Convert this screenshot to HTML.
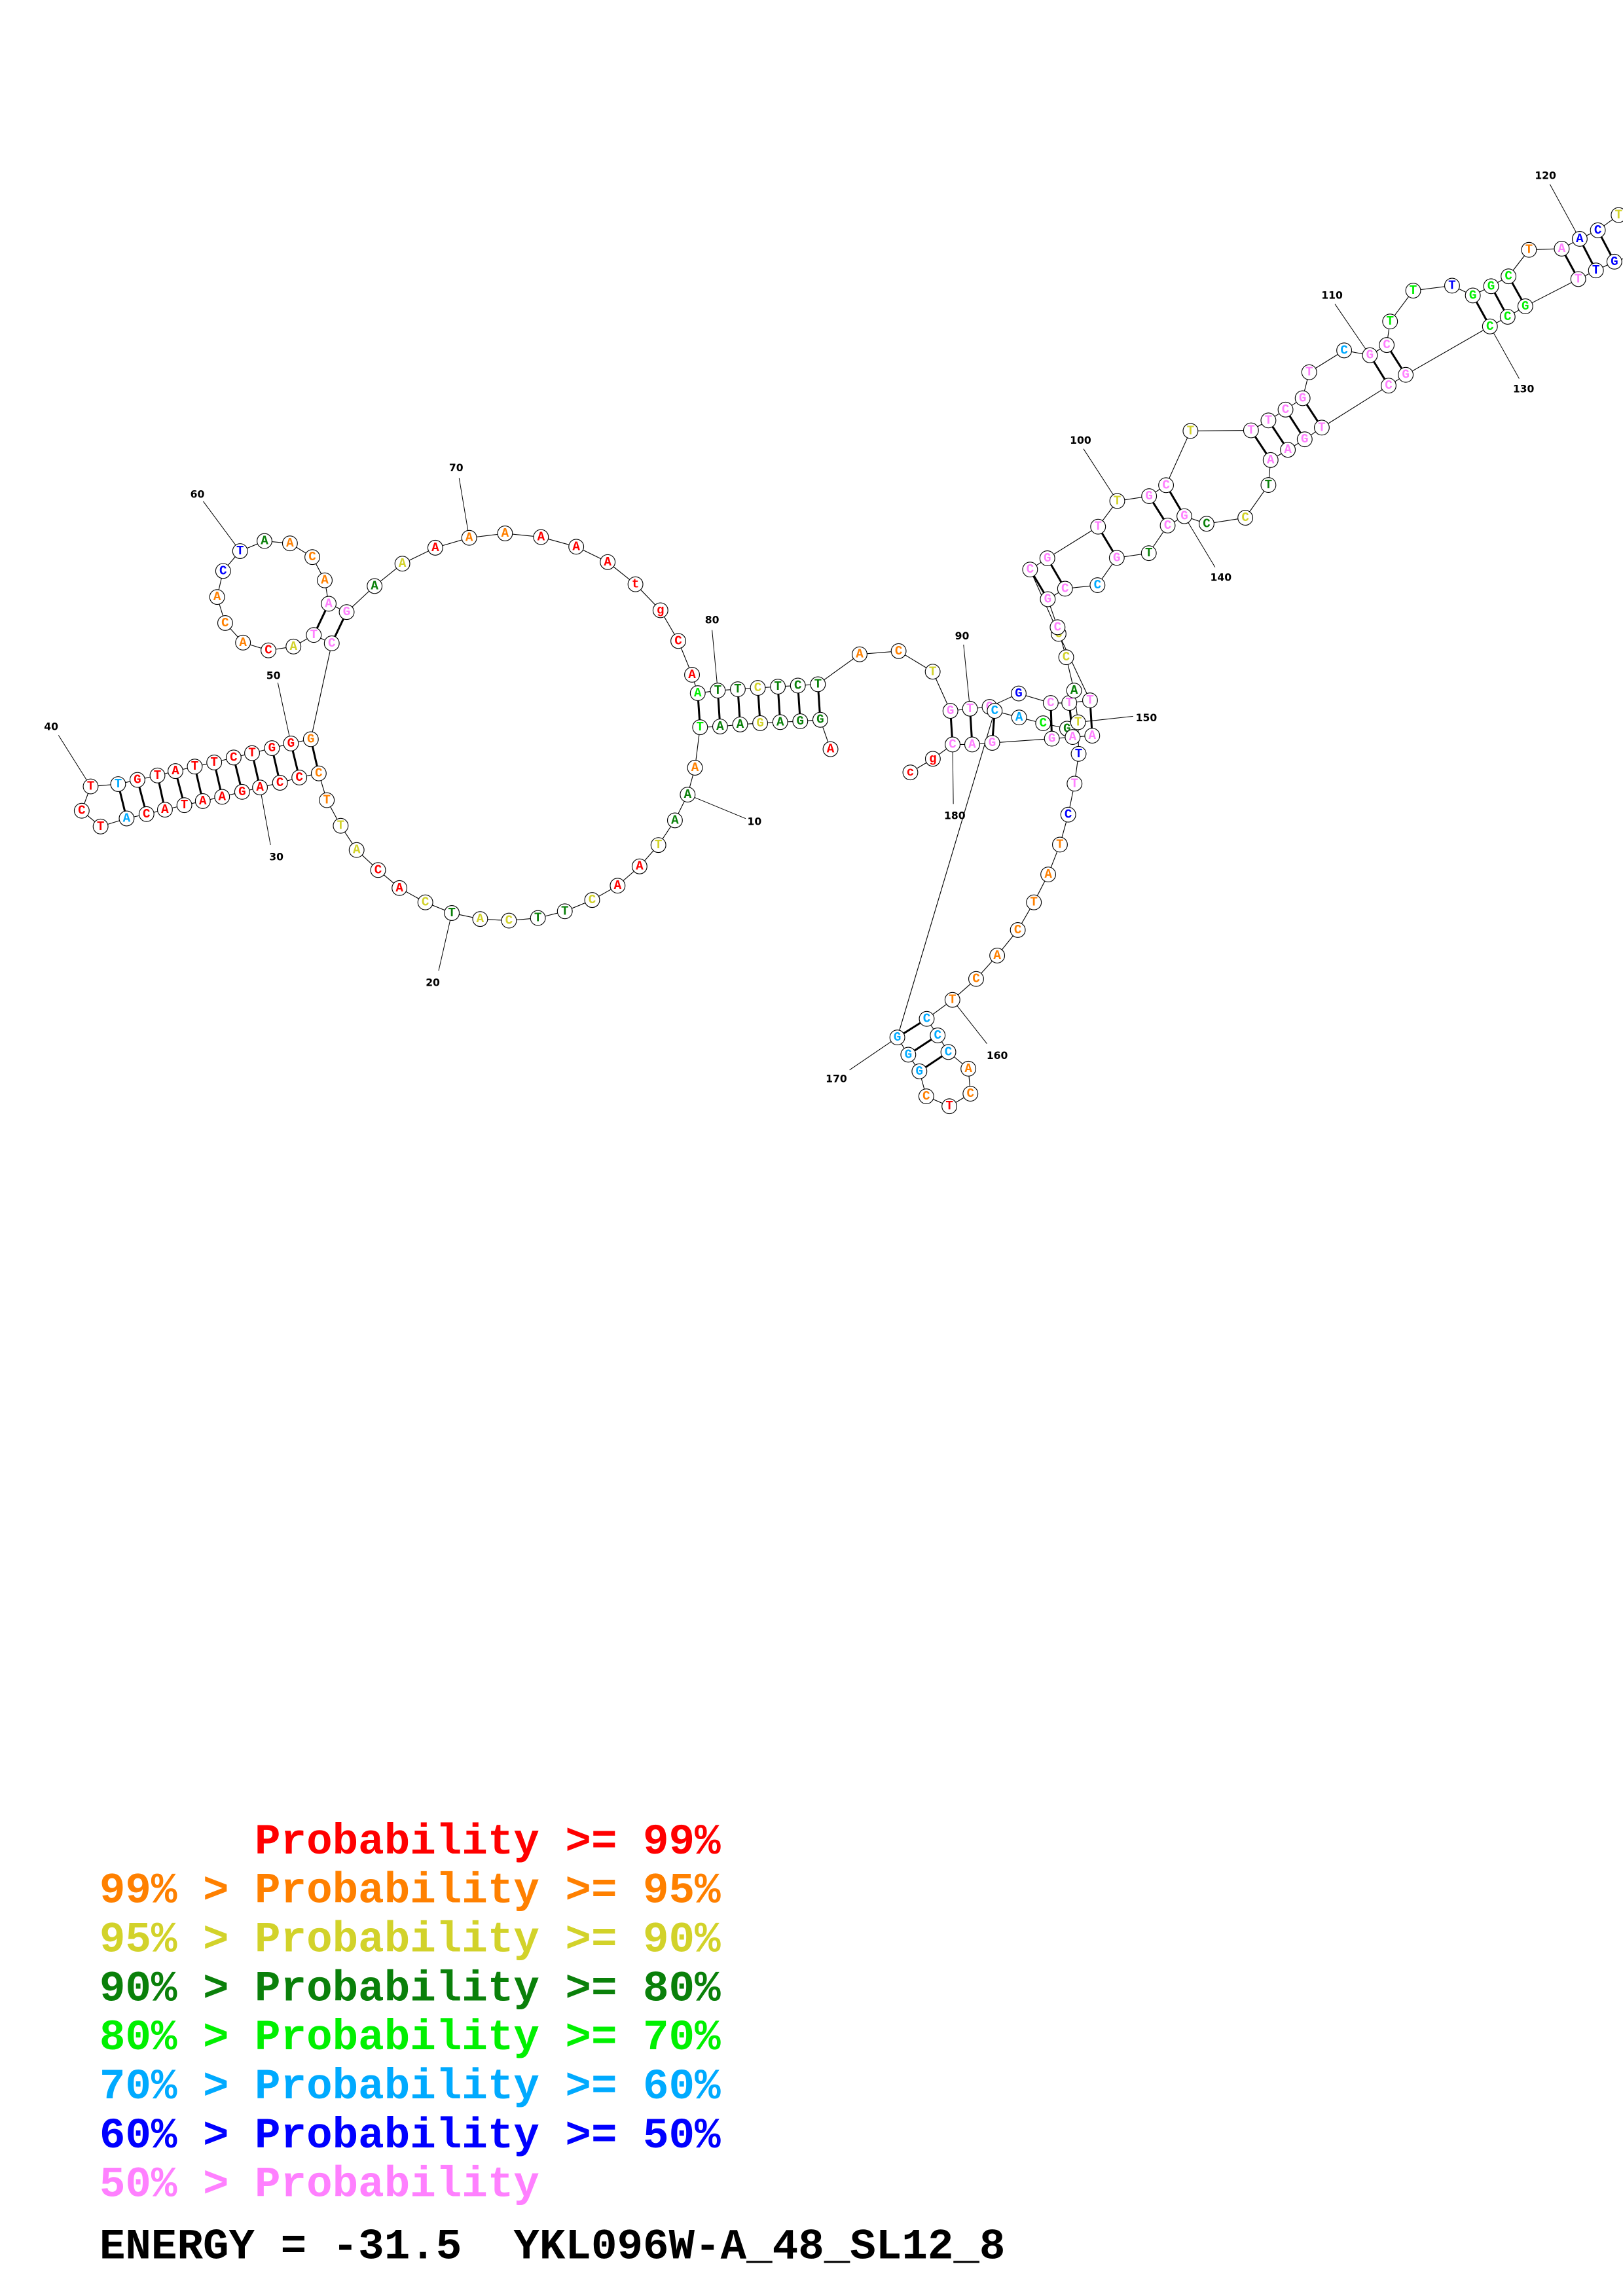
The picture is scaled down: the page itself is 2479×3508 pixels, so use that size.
<!DOCTYPE html>
<html><head><meta charset="utf-8"><style>
html,body{margin:0;padding:0;background:#fff}
svg{display:block}
.bb{fill:none;stroke:#000;stroke-width:.5}
.pr{stroke:#000;stroke-width:1.35}
.lb{stroke:#000;stroke-width:.45}
circle{fill:#fff;stroke:#000;stroke-width:.5}
.n{font-family:"Liberation Mono",monospace;font-weight:bold;font-size:8.6px;text-anchor:middle;dominant-baseline:central}
.num{font-family:"DejaVu Sans","Liberation Sans",sans-serif;font-weight:bold;font-size:7px;text-anchor:middle;dominant-baseline:central}
.lg{font-family:"Liberation Mono",monospace;font-weight:bold;font-size:29.5px}
.R{fill:#ff0000}.O{fill:#ff8000}.Y{fill:#d2d22a}.D{fill:#0a800a}.G{fill:#00f000}.L{fill:#00aaff}.B{fill:#0000ff}.P{fill:#ff80ff}.K{fill:#000}
</style></head><body>
<svg xmlns="http://www.w3.org/2000/svg" width="2479" height="3508" viewBox="0 0 1110 1570.7">
<rect x="0" y="0" width="1110" height="1570.7" fill="#fff"/>
<polyline class="bb" points="568.0,512.5 561.0,492.4 547.3,493.4 533.6,494.0 519.9,494.7 506.2,495.6 492.5,497.0 478.8,497.5 475.3,525.2 470.3,543.6 461.6,561.2 450.3,578.1 437.4,592.7 422.4,605.9 405.0,615.7 386.3,623.4 367.9,628.0 348.1,629.8 328.4,628.7 309.0,624.6 290.9,617.3 273.2,607.5 258.6,595.2 243.9,581.5 233.0,564.9 223.5,547.4 218.0,529.1 204.7,531.9 191.5,535.5 177.8,538.7 165.6,541.7 151.9,545.1 138.7,548.0 126.1,550.8 112.8,553.9 100.2,556.9 86.6,559.9 68.8,565.4 55.9,554.6 62.0,538.0 80.8,536.4 94.0,533.5 107.7,530.5 120.0,527.5 133.2,524.4 146.5,521.6 159.8,518.2 172.4,515.2 186.0,511.8 199.0,508.6 212.6,505.7 226.9,440.1 214.6,434.4 200.7,442.3 183.6,444.9 166.2,439.6 154.0,426.2 148.5,408.4 152.6,390.6 164.2,377.0 180.9,370.1 198.3,371.7 213.6,381.1 222.1,397.0 224.8,413.0 237.1,418.7 256.2,400.9 275.2,385.6 297.7,374.7 320.9,367.9 345.4,364.9 370.0,367.4 394.1,374.0 415.6,384.5 434.6,399.7 451.7,417.5 463.9,438.5 473.3,461.6 477.2,474.2 490.9,472.4 504.6,471.5 518.3,470.6 532.0,469.7 545.7,469.0 559.4,468.1 587.9,447.6 614.6,445.4 637.9,459.5 650.0,486.3 663.4,484.8 676.8,483.6 696.7,474.4 718.6,480.9 731.3,480.9 745.5,479.1 724.0,433.6 704.5,389.6 716.3,381.9 751.0,360.3 764.1,342.7 785.9,339.4 797.5,331.9 814.2,294.8 855.6,294.4 867.5,287.6 879.2,280.2 890.9,272.4 895.4,254.6 919.3,239.7 936.9,243.0 948.4,236.0 950.7,219.9 966.5,198.8 993.1,195.4 1007.3,202.1 1019.8,195.8 1031.7,189.0 1045.7,170.9 1068.1,170.1 1080.4,163.4 1092.8,157.5 1107.0,147.1 1125,135"/>
<polyline class="bb" points="1125,172 1104.1,179.0 1091.5,185.0 1079.4,190.9 1043.2,209.5 1031.1,216.7 1019.0,223.3 961.4,256.4 949.7,263.8 904.0,292.5 892.3,300.5 880.8,307.7 869.0,314.7 867.5,331.8 851.7,354.2 825.2,358.3 810.0,353.1 798.6,359.5 785.7,378.4 763.8,381.6 750.6,400.3 728.4,402.7 716.6,409.9 723.3,429.1 729.2,449.6 734.6,472.4 737.3,494.1 737.7,515.7 734.9,536.1 730.6,557.3 724.9,577.8 716.9,598.2 707.1,617.3 696.1,636.2 682.0,653.7 667.6,669.7 651.4,684.0 633.8,697.0 641.3,708.3 648.6,719.7 662.3,731.1 663.7,748.2 649.3,756.8 633.5,750.0 628.8,732.9 621.2,721.5 613.7,709.7 680.3,486.3 697.0,490.8 713.4,494.8 729.8,498.5 733.6,504.2 747.0,503.3 719.4,505.3 678.6,508.2 664.9,509.3 651.5,509.3 638.0,519.1 622.6,528.4"/>
<g class="pr">
<line x1="561.0" y1="492.4" x2="559.4" y2="468.1"/><line x1="547.3" y1="493.4" x2="545.7" y2="469.0"/><line x1="533.6" y1="494.0" x2="532.0" y2="469.7"/><line x1="519.9" y1="494.7" x2="518.3" y2="470.6"/><line x1="506.2" y1="495.6" x2="504.6" y2="471.5"/><line x1="492.5" y1="497.0" x2="490.9" y2="472.4"/><line x1="478.8" y1="497.5" x2="477.2" y2="474.2"/>
<line x1="218.0" y1="529.1" x2="212.6" y2="505.7"/><line x1="204.7" y1="531.9" x2="199.0" y2="508.6"/><line x1="191.5" y1="535.5" x2="186.0" y2="511.8"/><line x1="177.8" y1="538.7" x2="172.4" y2="515.2"/><line x1="165.6" y1="541.7" x2="159.8" y2="518.2"/><line x1="151.9" y1="545.1" x2="146.5" y2="521.6"/><line x1="138.7" y1="548.0" x2="133.2" y2="524.4"/><line x1="126.1" y1="550.8" x2="120.0" y2="527.5"/><line x1="112.8" y1="553.9" x2="107.7" y2="530.5"/><line x1="100.2" y1="556.9" x2="94.0" y2="533.5"/><line x1="86.6" y1="559.9" x2="80.8" y2="536.4"/>
<line x1="214.6" y1="434.4" x2="224.8" y2="413.0"/><line x1="226.9" y1="440.1" x2="237.1" y2="418.7"/>
<line x1="650.0" y1="486.3" x2="651.5" y2="509.3"/><line x1="663.4" y1="484.8" x2="664.9" y2="509.3"/><line x1="680.3" y1="486.3" x2="678.6" y2="508.2"/><line x1="718.6" y1="480.9" x2="719.4" y2="505.3"/><line x1="731.3" y1="480.9" x2="733.6" y2="504.2"/><line x1="745.5" y1="479.1" x2="747.0" y2="503.3"/>
<line x1="704.5" y1="389.6" x2="716.6" y2="409.9"/><line x1="716.3" y1="381.9" x2="728.4" y2="402.7"/><line x1="751.0" y1="360.3" x2="763.8" y2="381.6"/><line x1="785.9" y1="339.4" x2="798.6" y2="359.5"/><line x1="797.5" y1="331.9" x2="810.0" y2="353.1"/>
<line x1="855.6" y1="294.4" x2="869.0" y2="314.7"/><line x1="867.5" y1="287.6" x2="880.8" y2="307.7"/><line x1="879.2" y1="280.2" x2="892.3" y2="300.5"/><line x1="890.9" y1="272.4" x2="904.0" y2="292.5"/><line x1="936.9" y1="243.0" x2="949.7" y2="263.8"/><line x1="948.4" y1="236.0" x2="961.4" y2="256.4"/><line x1="1007.3" y1="202.1" x2="1019.0" y2="223.3"/><line x1="1019.8" y1="195.8" x2="1031.1" y2="216.7"/><line x1="1031.7" y1="189.0" x2="1043.2" y2="209.5"/><line x1="1068.1" y1="170.1" x2="1079.4" y2="190.9"/><line x1="1080.4" y1="163.4" x2="1091.5" y2="185.0"/><line x1="1092.8" y1="157.5" x2="1104.1" y2="179.0"/>
<line x1="633.8" y1="697.0" x2="613.7" y2="709.7"/><line x1="641.3" y1="708.3" x2="621.2" y2="721.5"/><line x1="648.6" y1="719.7" x2="628.8" y2="732.9"/>
</g>
<g class="lb">
<line x1="470.3" y1="543.6" x2="510" y2="560"/>
<line x1="309.0" y1="624.6" x2="300" y2="664"/>
<line x1="177.8" y1="538.7" x2="185" y2="578"/>
<line x1="62.0" y1="538.0" x2="40" y2="503"/>
<line x1="199.0" y1="508.6" x2="190" y2="467"/>
<line x1="164.2" y1="377.0" x2="139" y2="343"/>
<line x1="320.9" y1="367.9" x2="314" y2="327"/>
<line x1="490.9" y1="472.4" x2="487" y2="431"/>
<line x1="663.4" y1="484.8" x2="659" y2="441"/>
<line x1="764.1" y1="342.7" x2="741" y2="307"/>
<line x1="936.9" y1="243.0" x2="913" y2="208"/>
<line x1="1080.4" y1="163.4" x2="1060" y2="126"/>
<line x1="1019.0" y1="223.3" x2="1039" y2="259"/>
<line x1="810.0" y1="353.1" x2="831" y2="388"/>
<line x1="737.3" y1="494.1" x2="775" y2="490"/>
<line x1="651.4" y1="684.0" x2="675" y2="714"/>
<line x1="613.7" y1="709.7" x2="581" y2="732"/>
<line x1="651.5" y1="509.3" x2="652" y2="550"/>
</g>
<g class="num">
<text x="516" y="562">10</text><text x="296" y="672">20</text><text x="189" y="586">30</text><text x="35" y="497">40</text><text x="187" y="462">50</text><text x="135" y="338">60</text><text x="312" y="320">70</text><text x="487" y="424">80</text><text x="658" y="435">90</text><text x="739" y="301">100</text><text x="911" y="202">110</text><text x="1057" y="120">120</text><text x="1042" y="266">130</text><text x="835" y="395">140</text><text x="784" y="491">150</text><text x="682" y="722">160</text><text x="572" y="738">170</text><text x="653" y="558">180</text>
</g>
<g id="nt">
<circle cx="568.0" cy="512.5" r="5.1"/><text class="n R" x="568.0" y="512.5">A</text>
<circle cx="561.0" cy="492.4" r="5.1"/><text class="n D" x="561.0" y="492.4">G</text>
<circle cx="547.3" cy="493.4" r="5.1"/><text class="n D" x="547.3" y="493.4">G</text>
<circle cx="533.6" cy="494.0" r="5.1"/><text class="n D" x="533.6" y="494.0">A</text>
<circle cx="519.9" cy="494.7" r="5.1"/><text class="n Y" x="519.9" y="494.7">G</text>
<circle cx="506.2" cy="495.6" r="5.1"/><text class="n D" x="506.2" y="495.6">A</text>
<circle cx="492.5" cy="497.0" r="5.1"/><text class="n D" x="492.5" y="497.0">A</text>
<circle cx="478.8" cy="497.5" r="5.1"/><text class="n G" x="478.8" y="497.5">T</text>
<circle cx="475.3" cy="525.2" r="5.1"/><text class="n O" x="475.3" y="525.2">A</text>
<circle cx="470.3" cy="543.6" r="5.1"/><text class="n D" x="470.3" y="543.6">A</text>
<circle cx="461.6" cy="561.2" r="5.1"/><text class="n D" x="461.6" y="561.2">A</text>
<circle cx="450.3" cy="578.1" r="5.1"/><text class="n Y" x="450.3" y="578.1">T</text>
<circle cx="437.4" cy="592.7" r="5.1"/><text class="n R" x="437.4" y="592.7">A</text>
<circle cx="422.4" cy="605.9" r="5.1"/><text class="n R" x="422.4" y="605.9">A</text>
<circle cx="405.0" cy="615.7" r="5.1"/><text class="n Y" x="405.0" y="615.7">C</text>
<circle cx="386.3" cy="623.4" r="5.1"/><text class="n D" x="386.3" y="623.4">T</text>
<circle cx="367.9" cy="628.0" r="5.1"/><text class="n D" x="367.9" y="628.0">T</text>
<circle cx="348.1" cy="629.8" r="5.1"/><text class="n Y" x="348.1" y="629.8">C</text>
<circle cx="328.4" cy="628.7" r="5.1"/><text class="n Y" x="328.4" y="628.7">A</text>
<circle cx="309.0" cy="624.6" r="5.1"/><text class="n D" x="309.0" y="624.6">T</text>
<circle cx="290.9" cy="617.3" r="5.1"/><text class="n Y" x="290.9" y="617.3">C</text>
<circle cx="273.2" cy="607.5" r="5.1"/><text class="n R" x="273.2" y="607.5">A</text>
<circle cx="258.6" cy="595.2" r="5.1"/><text class="n R" x="258.6" y="595.2">C</text>
<circle cx="243.9" cy="581.5" r="5.1"/><text class="n Y" x="243.9" y="581.5">A</text>
<circle cx="233.0" cy="564.9" r="5.1"/><text class="n Y" x="233.0" y="564.9">T</text>
<circle cx="223.5" cy="547.4" r="5.1"/><text class="n O" x="223.5" y="547.4">T</text>
<circle cx="218.0" cy="529.1" r="5.1"/><text class="n O" x="218.0" y="529.1">C</text>
<circle cx="204.7" cy="531.9" r="5.1"/><text class="n R" x="204.7" y="531.9">C</text>
<circle cx="191.5" cy="535.5" r="5.1"/><text class="n R" x="191.5" y="535.5">C</text>
<circle cx="177.8" cy="538.7" r="5.1"/><text class="n R" x="177.8" y="538.7">A</text>
<circle cx="165.6" cy="541.7" r="5.1"/><text class="n R" x="165.6" y="541.7">G</text>
<circle cx="151.9" cy="545.1" r="5.1"/><text class="n R" x="151.9" y="545.1">A</text>
<circle cx="138.7" cy="548.0" r="5.1"/><text class="n R" x="138.7" y="548.0">A</text>
<circle cx="126.1" cy="550.8" r="5.1"/><text class="n R" x="126.1" y="550.8">T</text>
<circle cx="112.8" cy="553.9" r="5.1"/><text class="n R" x="112.8" y="553.9">A</text>
<circle cx="100.2" cy="556.9" r="5.1"/><text class="n R" x="100.2" y="556.9">C</text>
<circle cx="86.6" cy="559.9" r="5.1"/><text class="n L" x="86.6" y="559.9">A</text>
<circle cx="68.8" cy="565.4" r="5.1"/><text class="n R" x="68.8" y="565.4">T</text>
<circle cx="55.9" cy="554.6" r="5.1"/><text class="n R" x="55.9" y="554.6">C</text>
<circle cx="62.0" cy="538.0" r="5.1"/><text class="n R" x="62.0" y="538.0">T</text>
<circle cx="80.8" cy="536.4" r="5.1"/><text class="n L" x="80.8" y="536.4">T</text>
<circle cx="94.0" cy="533.5" r="5.1"/><text class="n R" x="94.0" y="533.5">G</text>
<circle cx="107.7" cy="530.5" r="5.1"/><text class="n R" x="107.7" y="530.5">T</text>
<circle cx="120.0" cy="527.5" r="5.1"/><text class="n R" x="120.0" y="527.5">A</text>
<circle cx="133.2" cy="524.4" r="5.1"/><text class="n R" x="133.2" y="524.4">T</text>
<circle cx="146.5" cy="521.6" r="5.1"/><text class="n R" x="146.5" y="521.6">T</text>
<circle cx="159.8" cy="518.2" r="5.1"/><text class="n R" x="159.8" y="518.2">C</text>
<circle cx="172.4" cy="515.2" r="5.1"/><text class="n R" x="172.4" y="515.2">T</text>
<circle cx="186.0" cy="511.8" r="5.1"/><text class="n R" x="186.0" y="511.8">G</text>
<circle cx="199.0" cy="508.6" r="5.1"/><text class="n R" x="199.0" y="508.6">G</text>
<circle cx="212.6" cy="505.7" r="5.1"/><text class="n O" x="212.6" y="505.7">G</text>
<circle cx="226.9" cy="440.1" r="5.1"/><text class="n P" x="226.9" y="440.1">C</text>
<circle cx="214.6" cy="434.4" r="5.1"/><text class="n P" x="214.6" y="434.4">T</text>
<circle cx="200.7" cy="442.3" r="5.1"/><text class="n Y" x="200.7" y="442.3">A</text>
<circle cx="183.6" cy="444.9" r="5.1"/><text class="n R" x="183.6" y="444.9">C</text>
<circle cx="166.2" cy="439.6" r="5.1"/><text class="n O" x="166.2" y="439.6">A</text>
<circle cx="154.0" cy="426.2" r="5.1"/><text class="n O" x="154.0" y="426.2">C</text>
<circle cx="148.5" cy="408.4" r="5.1"/><text class="n O" x="148.5" y="408.4">A</text>
<circle cx="152.6" cy="390.6" r="5.1"/><text class="n B" x="152.6" y="390.6">C</text>
<circle cx="164.2" cy="377.0" r="5.1"/><text class="n B" x="164.2" y="377.0">T</text>
<circle cx="180.9" cy="370.1" r="5.1"/><text class="n D" x="180.9" y="370.1">A</text>
<circle cx="198.3" cy="371.7" r="5.1"/><text class="n O" x="198.3" y="371.7">A</text>
<circle cx="213.6" cy="381.1" r="5.1"/><text class="n O" x="213.6" y="381.1">C</text>
<circle cx="222.1" cy="397.0" r="5.1"/><text class="n O" x="222.1" y="397.0">A</text>
<circle cx="224.8" cy="413.0" r="5.1"/><text class="n P" x="224.8" y="413.0">A</text>
<circle cx="237.1" cy="418.7" r="5.1"/><text class="n P" x="237.1" y="418.7">G</text>
<circle cx="256.2" cy="400.9" r="5.1"/><text class="n D" x="256.2" y="400.9">A</text>
<circle cx="275.2" cy="385.6" r="5.1"/><text class="n Y" x="275.2" y="385.6">A</text>
<circle cx="297.7" cy="374.7" r="5.1"/><text class="n R" x="297.7" y="374.7">A</text>
<circle cx="320.9" cy="367.9" r="5.1"/><text class="n O" x="320.9" y="367.9">A</text>
<circle cx="345.4" cy="364.9" r="5.1"/><text class="n O" x="345.4" y="364.9">A</text>
<circle cx="370.0" cy="367.4" r="5.1"/><text class="n R" x="370.0" y="367.4">A</text>
<circle cx="394.1" cy="374.0" r="5.1"/><text class="n R" x="394.1" y="374.0">A</text>
<circle cx="415.6" cy="384.5" r="5.1"/><text class="n R" x="415.6" y="384.5">A</text>
<circle cx="434.6" cy="399.7" r="5.1"/><text class="n R" x="434.6" y="399.7">t</text>
<circle cx="451.7" cy="417.5" r="5.1"/><text class="n R" x="451.7" y="417.5">g</text>
<circle cx="463.9" cy="438.5" r="5.1"/><text class="n R" x="463.9" y="438.5">C</text>
<circle cx="473.3" cy="461.6" r="5.1"/><text class="n R" x="473.3" y="461.6">A</text>
<circle cx="477.2" cy="474.2" r="5.1"/><text class="n G" x="477.2" y="474.2">A</text>
<circle cx="490.9" cy="472.4" r="5.1"/><text class="n D" x="490.9" y="472.4">T</text>
<circle cx="504.6" cy="471.5" r="5.1"/><text class="n D" x="504.6" y="471.5">T</text>
<circle cx="518.3" cy="470.6" r="5.1"/><text class="n Y" x="518.3" y="470.6">C</text>
<circle cx="532.0" cy="469.7" r="5.1"/><text class="n D" x="532.0" y="469.7">T</text>
<circle cx="545.7" cy="469.0" r="5.1"/><text class="n D" x="545.7" y="469.0">C</text>
<circle cx="559.4" cy="468.1" r="5.1"/><text class="n D" x="559.4" y="468.1">T</text>
<circle cx="587.9" cy="447.6" r="5.1"/><text class="n O" x="587.9" y="447.6">A</text>
<circle cx="614.6" cy="445.4" r="5.1"/><text class="n O" x="614.6" y="445.4">C</text>
<circle cx="637.9" cy="459.5" r="5.1"/><text class="n Y" x="637.9" y="459.5">T</text>
<circle cx="650.0" cy="486.3" r="5.1"/><text class="n P" x="650.0" y="486.3">G</text>
<circle cx="663.4" cy="484.8" r="5.1"/><text class="n P" x="663.4" y="484.8">T</text>
<circle cx="676.8" cy="483.6" r="5.1"/><text class="n P" x="676.8" y="483.6">G</text>
<circle cx="696.7" cy="474.4" r="5.1"/><text class="n B" x="696.7" y="474.4">G</text>
<circle cx="718.6" cy="480.9" r="5.1"/><text class="n P" x="718.6" y="480.9">C</text>
<circle cx="724.0" cy="433.6" r="5.1"/><text class="n Y" x="724.0" y="433.6">C</text>
<circle cx="704.5" cy="389.6" r="5.1"/><text class="n P" x="704.5" y="389.6">C</text>
<circle cx="716.3" cy="381.9" r="5.1"/><text class="n P" x="716.3" y="381.9">G</text>
<circle cx="751.0" cy="360.3" r="5.1"/><text class="n P" x="751.0" y="360.3">T</text>
<circle cx="764.1" cy="342.7" r="5.1"/><text class="n Y" x="764.1" y="342.7">T</text>
<circle cx="785.9" cy="339.4" r="5.1"/><text class="n P" x="785.9" y="339.4">G</text>
<circle cx="797.5" cy="331.9" r="5.1"/><text class="n P" x="797.5" y="331.9">C</text>
<circle cx="814.2" cy="294.8" r="5.1"/><text class="n Y" x="814.2" y="294.8">T</text>
<circle cx="855.6" cy="294.4" r="5.1"/><text class="n P" x="855.6" y="294.4">T</text>
<circle cx="867.5" cy="287.6" r="5.1"/><text class="n P" x="867.5" y="287.6">T</text>
<circle cx="879.2" cy="280.2" r="5.1"/><text class="n P" x="879.2" y="280.2">C</text>
<circle cx="890.9" cy="272.4" r="5.1"/><text class="n P" x="890.9" y="272.4">G</text>
<circle cx="895.4" cy="254.6" r="5.1"/><text class="n P" x="895.4" y="254.6">T</text>
<circle cx="919.3" cy="239.7" r="5.1"/><text class="n L" x="919.3" y="239.7">C</text>
<circle cx="936.9" cy="243.0" r="5.1"/><text class="n P" x="936.9" y="243.0">G</text>
<circle cx="948.4" cy="236.0" r="5.1"/><text class="n P" x="948.4" y="236.0">C</text>
<circle cx="950.7" cy="219.9" r="5.1"/><text class="n G" x="950.7" y="219.9">T</text>
<circle cx="966.5" cy="198.8" r="5.1"/><text class="n G" x="966.5" y="198.8">T</text>
<circle cx="993.1" cy="195.4" r="5.1"/><text class="n B" x="993.1" y="195.4">T</text>
<circle cx="1007.3" cy="202.1" r="5.1"/><text class="n G" x="1007.3" y="202.1">G</text>
<circle cx="1019.8" cy="195.8" r="5.1"/><text class="n G" x="1019.8" y="195.8">G</text>
<circle cx="1031.7" cy="189.0" r="5.1"/><text class="n G" x="1031.7" y="189.0">C</text>
<circle cx="1045.7" cy="170.9" r="5.1"/><text class="n O" x="1045.7" y="170.9">T</text>
<circle cx="1068.1" cy="170.1" r="5.1"/><text class="n P" x="1068.1" y="170.1">A</text>
<circle cx="1080.4" cy="163.4" r="5.1"/><text class="n B" x="1080.4" y="163.4">A</text>
<circle cx="1092.8" cy="157.5" r="5.1"/><text class="n B" x="1092.8" y="157.5">C</text>
<circle cx="1107.0" cy="147.1" r="5.1"/><text class="n Y" x="1107.0" y="147.1">T</text>
<circle cx="1104.1" cy="179.0" r="5.1"/><text class="n B" x="1104.1" y="179.0">G</text>
<circle cx="1091.5" cy="185.0" r="5.1"/><text class="n B" x="1091.5" y="185.0">T</text>
<circle cx="1079.4" cy="190.9" r="5.1"/><text class="n P" x="1079.4" y="190.9">T</text>
<circle cx="1043.2" cy="209.5" r="5.1"/><text class="n G" x="1043.2" y="209.5">G</text>
<circle cx="1031.1" cy="216.7" r="5.1"/><text class="n G" x="1031.1" y="216.7">C</text>
<circle cx="1019.0" cy="223.3" r="5.1"/><text class="n G" x="1019.0" y="223.3">C</text>
<circle cx="961.4" cy="256.4" r="5.1"/><text class="n P" x="961.4" y="256.4">G</text>
<circle cx="949.7" cy="263.8" r="5.1"/><text class="n P" x="949.7" y="263.8">C</text>
<circle cx="904.0" cy="292.5" r="5.1"/><text class="n P" x="904.0" y="292.5">T</text>
<circle cx="892.3" cy="300.5" r="5.1"/><text class="n P" x="892.3" y="300.5">G</text>
<circle cx="880.8" cy="307.7" r="5.1"/><text class="n P" x="880.8" y="307.7">A</text>
<circle cx="869.0" cy="314.7" r="5.1"/><text class="n P" x="869.0" y="314.7">A</text>
<circle cx="867.5" cy="331.8" r="5.1"/><text class="n D" x="867.5" y="331.8">T</text>
<circle cx="851.7" cy="354.2" r="5.1"/><text class="n Y" x="851.7" y="354.2">C</text>
<circle cx="825.2" cy="358.3" r="5.1"/><text class="n D" x="825.2" y="358.3">C</text>
<circle cx="810.0" cy="353.1" r="5.1"/><text class="n P" x="810.0" y="353.1">G</text>
<circle cx="798.6" cy="359.5" r="5.1"/><text class="n P" x="798.6" y="359.5">C</text>
<circle cx="785.7" cy="378.4" r="5.1"/><text class="n D" x="785.7" y="378.4">T</text>
<circle cx="763.8" cy="381.6" r="5.1"/><text class="n P" x="763.8" y="381.6">G</text>
<circle cx="750.6" cy="400.3" r="5.1"/><text class="n L" x="750.6" y="400.3">C</text>
<circle cx="728.4" cy="402.7" r="5.1"/><text class="n P" x="728.4" y="402.7">C</text>
<circle cx="716.6" cy="409.9" r="5.1"/><text class="n P" x="716.6" y="409.9">G</text>
<circle cx="723.3" cy="429.1" r="5.1"/><text class="n P" x="723.3" y="429.1">C</text>
<circle cx="729.2" cy="449.6" r="5.1"/><text class="n Y" x="729.2" y="449.6">C</text>
<circle cx="737.7" cy="515.7" r="5.1"/><text class="n B" x="737.7" y="515.7">T</text>
<circle cx="734.9" cy="536.1" r="5.1"/><text class="n P" x="734.9" y="536.1">T</text>
<circle cx="730.6" cy="557.3" r="5.1"/><text class="n B" x="730.6" y="557.3">C</text>
<circle cx="724.9" cy="577.8" r="5.1"/><text class="n O" x="724.9" y="577.8">T</text>
<circle cx="716.9" cy="598.2" r="5.1"/><text class="n O" x="716.9" y="598.2">A</text>
<circle cx="707.1" cy="617.3" r="5.1"/><text class="n O" x="707.1" y="617.3">T</text>
<circle cx="696.1" cy="636.2" r="5.1"/><text class="n O" x="696.1" y="636.2">C</text>
<circle cx="682.0" cy="653.7" r="5.1"/><text class="n O" x="682.0" y="653.7">A</text>
<circle cx="667.6" cy="669.7" r="5.1"/><text class="n O" x="667.6" y="669.7">C</text>
<circle cx="651.4" cy="684.0" r="5.1"/><text class="n O" x="651.4" y="684.0">T</text>
<circle cx="633.8" cy="697.0" r="5.1"/><text class="n L" x="633.8" y="697.0">C</text>
<circle cx="641.3" cy="708.3" r="5.1"/><text class="n L" x="641.3" y="708.3">C</text>
<circle cx="648.6" cy="719.7" r="5.1"/><text class="n L" x="648.6" y="719.7">C</text>
<circle cx="662.3" cy="731.1" r="5.1"/><text class="n O" x="662.3" y="731.1">A</text>
<circle cx="663.7" cy="748.2" r="5.1"/><text class="n O" x="663.7" y="748.2">C</text>
<circle cx="649.3" cy="756.8" r="5.1"/><text class="n R" x="649.3" y="756.8">T</text>
<circle cx="633.5" cy="750.0" r="5.1"/><text class="n O" x="633.5" y="750.0">C</text>
<circle cx="628.8" cy="732.9" r="5.1"/><text class="n L" x="628.8" y="732.9">G</text>
<circle cx="621.2" cy="721.5" r="5.1"/><text class="n L" x="621.2" y="721.5">G</text>
<circle cx="613.7" cy="709.7" r="5.1"/><text class="n L" x="613.7" y="709.7">G</text>
<circle cx="680.3" cy="486.3" r="5.1"/><text class="n L" x="680.3" y="486.3">C</text>
<circle cx="697.0" cy="490.8" r="5.1"/><text class="n L" x="697.0" y="490.8">A</text>
<circle cx="713.4" cy="494.8" r="5.1"/><text class="n G" x="713.4" y="494.8">C</text>
<circle cx="729.8" cy="498.5" r="5.1"/><text class="n D" x="729.8" y="498.5">G</text>
<circle cx="719.4" cy="505.3" r="5.1"/><text class="n P" x="719.4" y="505.3">G</text>
<circle cx="731.3" cy="480.9" r="5.1"/><text class="n P" x="731.3" y="480.9">T</text>
<circle cx="734.6" cy="472.4" r="5.1"/><text class="n D" x="734.6" y="472.4">A</text>
<circle cx="745.5" cy="479.1" r="5.1"/><text class="n P" x="745.5" y="479.1">T</text>
<circle cx="737.3" cy="494.1" r="5.1"/><text class="n Y" x="737.3" y="494.1">T</text>
<circle cx="733.6" cy="504.2" r="5.1"/><text class="n P" x="733.6" y="504.2">A</text>
<circle cx="747.0" cy="503.3" r="5.1"/><text class="n P" x="747.0" y="503.3">A</text>
<circle cx="678.6" cy="508.2" r="5.1"/><text class="n P" x="678.6" y="508.2">G</text>
<circle cx="664.9" cy="509.3" r="5.1"/><text class="n P" x="664.9" y="509.3">A</text>
<circle cx="651.5" cy="509.3" r="5.1"/><text class="n P" x="651.5" y="509.3">C</text>
<circle cx="638.0" cy="519.1" r="5.1"/><text class="n R" x="638.0" y="519.1">g</text>
<circle cx="622.6" cy="528.4" r="5.1"/><text class="n R" x="622.6" y="528.4">c</text>
</g>
<g class="lg">
<text class="R" x="174.2" y="1268">Probability &gt;= 99%</text>
<text class="O" x="68" y="1301.5">99% &gt; Probability &gt;= 95%</text>
<text class="Y" x="68" y="1335">95% &gt; Probability &gt;= 90%</text>
<text class="D" x="68" y="1368.5">90% &gt; Probability &gt;= 80%</text>
<text class="G" x="68" y="1402">80% &gt; Probability &gt;= 70%</text>
<text class="L" x="68" y="1435.5">70% &gt; Probability &gt;= 60%</text>
<text class="B" x="68" y="1469">60% &gt; Probability &gt;= 50%</text>
<text class="P" x="68" y="1502.5">50% &gt; Probability</text>
<text class="K" x="68" y="1545">ENERGY = -31.5</text>
<text class="K" x="351.2" y="1545">YKL096W-A_48_SL12_8</text>
</g>
</svg>
</body></html>
